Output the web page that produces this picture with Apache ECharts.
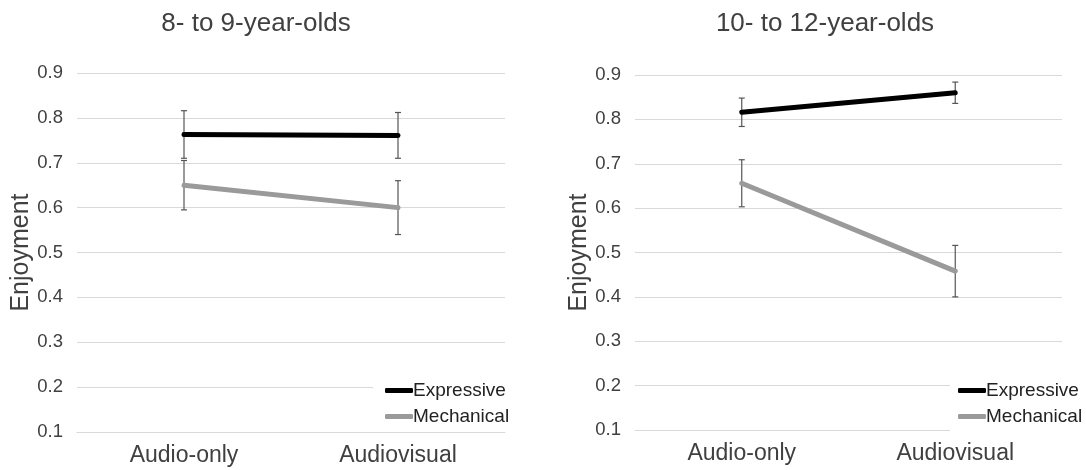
<!DOCTYPE html>
<html>
<head>
<meta charset="utf-8">
<script src="https://cdn.jsdelivr.net/npm/echarts@6/dist/echarts.min.js"></script>
<style>
html,body{margin:0;padding:0;background:#fff;}
#chart{width:1086px;height:470px;}
</style>
</head>
<body>
<div id="chart"></div>
<script>
// ---- data ----
const categories = ['Audio-only', 'Audiovisual'];
const panelTitles = ['8- to 9-year-olds', '10- to 12-year-olds'];
const seriesNames = ['Expressive', 'Mechanical'];
const yTicks = [0.1, 0.9, 0.1]; // min, max, interval

// 8- to 9-year-olds
const young_expressive = [0.763, 0.761];
const young_expressive_err = [0.053, 0.051];
const young_mechanical = [0.650, 0.600];
const young_mechanical_err = [0.055, 0.060];

// 10- to 12-year-olds
const old_expressive = [0.816, 0.860];
const old_expressive_err = [0.032, 0.024];
const old_mechanical = [0.656, 0.458];
const old_mechanical_err = [0.053, 0.058];

// ---- styling ----
const FONT = '"Liberation Sans", Arial, Helvetica, sans-serif';
const TEXT = '#404040';
const GRID = '#d9d9d9';
const COLORS = { Expressive: '#000000', Mechanical: '#9a9a9a' };

const grids = [
  { left: 77, right: 581, top: 73, bottom: 38 },
  { left: 635, right: 24, top: 75, bottom: 40 }
];

function xAxisFor(i) {
  return {
    type: 'category', gridIndex: i, data: categories, boundaryGap: true,
    axisLine: { show: true, lineStyle: { color: GRID, width: 1 } },
    axisTick: { show: false },
    axisLabel: { color: TEXT, fontSize: 23, fontFamily: FONT, margin: 12 }
  };
}
function yAxisFor(i) {
  return {
    type: 'value', gridIndex: i, min: yTicks[0], max: yTicks[1], interval: yTicks[2],
    name: 'Enjoyment', nameLocation: 'middle', nameRotate: 90, nameGap: 43,
    nameTextStyle: { color: TEXT, fontSize: 25, fontFamily: FONT },
    axisLine: { show: false }, axisTick: { show: false },
    splitLine: { show: true, lineStyle: { color: GRID, width: 1 } },
    axisLabel: { color: TEXT, fontSize: 18.5, fontFamily: FONT, margin: 14,
      formatter: v => v.toFixed(1) }
  };
}

function lineSeries(name, vals, gi) {
  return {
    type: 'line', name: name, xAxisIndex: gi, yAxisIndex: gi,
    data: vals, symbol: 'none', showSymbol: false, z: 3,
    lineStyle: { color: COLORS[name], width: 5, cap: 'round', join: 'round' },
    itemStyle: { color: COLORS[name] }
  };
}
function errSeries(name, vals, errs, gi) {
  const d = vals.map((v, k) => [k, v - errs[k], v + errs[k]]);
  return {
    type: 'custom', name: name + ' error', xAxisIndex: gi, yAxisIndex: gi, z: 2,
    silent: true, encode: { x: 0, y: [1, 2] }, data: d,
    renderItem: function (params, api) {
      const x = api.value(0);
      const lo = api.coord([x, api.value(1)]);
      const hi = api.coord([x, api.value(2)]);
      const w = 3;
      const st = { stroke: '#555555', lineWidth: 1.2 };
      return {
        type: 'group',
        children: [
          { type: 'line', shape: { x1: lo[0], y1: lo[1], x2: hi[0], y2: hi[1] }, style: st },
          { type: 'line', shape: { x1: lo[0] - w, y1: lo[1], x2: lo[0] + w, y2: lo[1] }, style: st },
          { type: 'line', shape: { x1: hi[0] - w, y1: hi[1], x2: hi[0] + w, y2: hi[1] }, style: st }
        ]
      };
    }
  };
}

function legendFor(left, top, pad) {
  return {
    data: seriesNames, orient: 'vertical', left: left, top: top,
    icon: 'roundRect', itemWidth: 28, itemHeight: 5, itemGap: 7,
    backgroundColor: '#ffffff', padding: pad, selectedMode: false,
    textStyle: { color: '#222222', fontSize: 19, fontFamily: FONT, padding: [0, 0, 0, -5] }
  };
}

const option = {
  backgroundColor: '#ffffff',
  animation: false,
  title: [
    { text: panelTitles[0], left: 251, top: 6, textAlign: 'center',
      textStyle: { color: TEXT, fontSize: 26, fontWeight: 'normal', fontFamily: FONT } },
    { text: panelTitles[1], left: 820, top: 6, textAlign: 'center',
      textStyle: { color: TEXT, fontSize: 26, fontWeight: 'normal', fontFamily: FONT } }
  ],
  legend: [
    legendFor(373, 375, [6, 30, 1, 12]),
    legendFor(950, 375, [6, 10, 14, 8])
  ],
  grid: grids,
  xAxis: [xAxisFor(0), xAxisFor(1)],
  yAxis: [yAxisFor(0), yAxisFor(1)],
  series: [
    errSeries('Expressive', young_expressive, young_expressive_err, 0),
    errSeries('Mechanical', young_mechanical, young_mechanical_err, 0),
    lineSeries('Expressive', young_expressive, 0),
    lineSeries('Mechanical', young_mechanical, 0),
    errSeries('Expressive', old_expressive, old_expressive_err, 1),
    errSeries('Mechanical', old_mechanical, old_mechanical_err, 1),
    lineSeries('Expressive', old_expressive, 1),
    lineSeries('Mechanical', old_mechanical, 1)
  ]
};

const chart = echarts.init(document.getElementById('chart'), null, { renderer: 'canvas' });
chart.setOption(option);
</script>
</body>
</html>
